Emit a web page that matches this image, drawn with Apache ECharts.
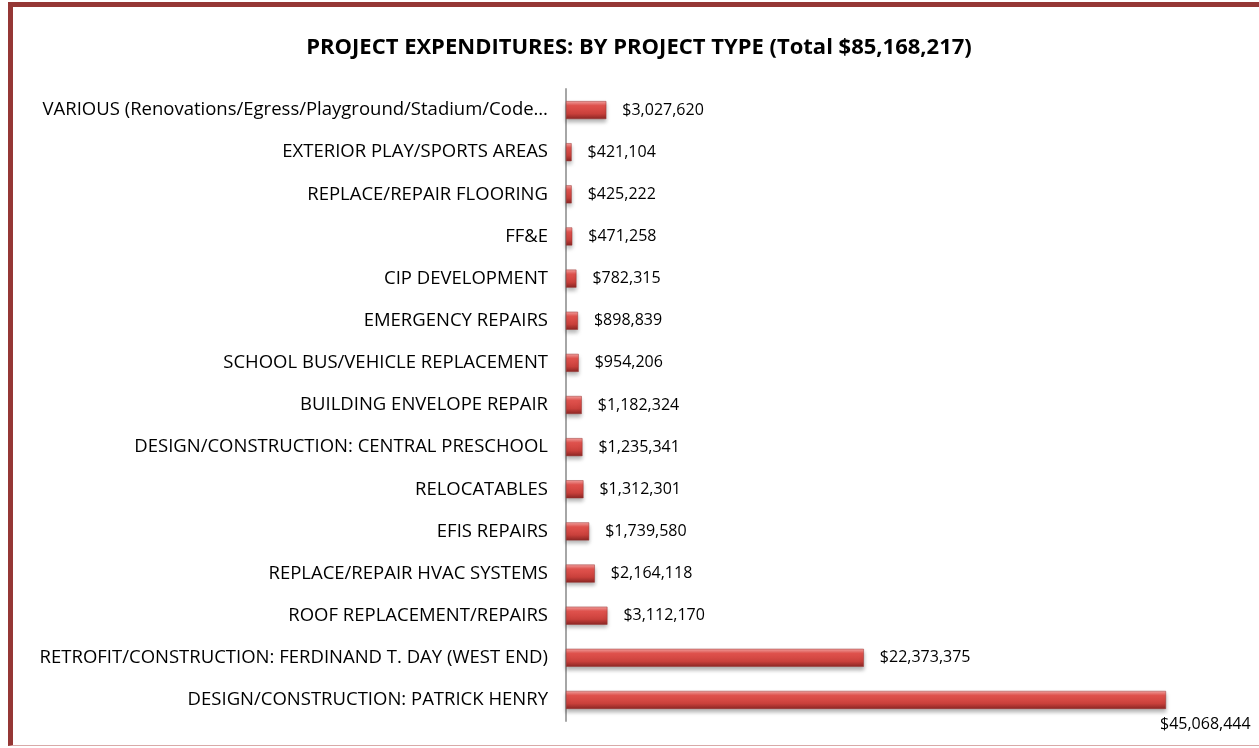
<!DOCTYPE html>
<html>
<head>
<meta charset="utf-8">
<script src="https://cdn.jsdelivr.net/npm/echarts@6/dist/echarts.min.js"></script>
<style>
  html, body { margin: 0; padding: 0; background: #fff; overflow: hidden; }
  #frame {
    position: absolute; left: 8px; top: 2px; width: 1260px; height: 744px;
    border-left: 5px solid #953735; border-top: 5px solid #953735;
    border-right: 4px solid #953735; border-bottom: 1px solid #d9a9a8;
    box-sizing: border-box;
  }
  #main { position: absolute; left: 0; top: 0; width: 1259px; height: 748px; }
</style>
</head>
<body>
<div id="frame"></div>
<div id="main"></div>
<script>
// categories listed top to bottom, as in the picture
var categories = [
    'VARIOUS (Renovations/Egress/Playground/Stadium/Code\u2026',
    'EXTERIOR PLAY/SPORTS AREAS',
    'REPLACE/REPAIR FLOORING',
    'FF&E',
    'CIP DEVELOPMENT',
    'EMERGENCY REPAIRS',
    'SCHOOL BUS/VEHICLE REPLACEMENT',
    'BUILDING ENVELOPE REPAIR',
    'DESIGN/CONSTRUCTION: CENTRAL PRESCHOOL',
    'RELOCATABLES',
    'EFIS REPAIRS',
    'REPLACE/REPAIR HVAC SYSTEMS',
    'ROOF REPLACEMENT/REPAIRS',
    'RETROFIT/CONSTRUCTION: FERDINAND T. DAY (WEST END)',
    'DESIGN/CONSTRUCTION: PATRICK HENRY'
];
var amounts = [
    3027620, 421104, 425222, 471258, 782315, 898839, 954206, 1182324,
    1235341, 1312301, 1739580, 2164118, 3112170, 22373375, 45068444
];
var chartTitle = 'PROJECT EXPENDITURES: BY PROJECT TYPE (Total $85,168,217)';

var dom = document.getElementById('main');
var myChart = echarts.init(dom, null, { renderer: 'canvas' });

function money(v) {
    return '$' + v.toString().replace(/\B(?=(\d{3})+(?!\d))/g, ',');
}

var barColor = new echarts.graphic.LinearGradient(0, 0, 0, 1, [
    { offset: 0, color: '#f4a3a1' },
    { offset: 0.25, color: '#e4544f' },
    { offset: 0.7, color: '#c9403b' },
    { offset: 1, color: '#8a2624' }
]);

var maxIdx = amounts.indexOf(Math.max.apply(null, amounts));

var option = {
    animation: false,
    title: {
        text: chartTitle,
        left: 634,
        textAlign: 'center',
        top: 32,
        textStyle: { fontFamily: 'Open Sans', fontSize: 22, fontWeight: 'bold', color: '#000' }
    },
    grid: { left: 566, right: 93, top: 89, bottom: 27 },
    xAxis: {
        type: 'value',
        min: 0,
        max: 45068444,
        show: false
    },
    yAxis: {
        type: 'category',
        data: categories,
        inverse: true,
        axisLine: { lineStyle: { color: '#a6a6a6', width: 2 } },
        axisTick: { show: false },
        axisLabel: { margin: 18, color: '#000', fontFamily: 'Open Sans', fontSize: 18.5 }
    },
    series: [
        {
            type: 'bar',
            barWidth: 18,
            data: amounts.map(function (v, i) {
                var d = { value: v };
                if (i === maxIdx) {
                    d.label = { position: ['100%', '100%'], align: 'left', verticalAlign: 'top', offset: [-6, 8] };
                }
                return d;
            }),
            itemStyle: {
                color: barColor,
                borderColor: '#9b3532',
                borderWidth: 0.5,
                shadowColor: 'rgba(0,0,0,0.3)',
                shadowBlur: 4,
                shadowOffsetY: 3
            },
            label: {
                show: true,
                position: 'right',
                distance: 16,
                color: '#000',
                fontFamily: 'Open Sans',
                fontSize: 16,
                formatter: function (p) { return money(p.value); }
            }
        }
    ]
};

myChart.setOption(option);
window.addEventListener('resize', myChart.resize);
</script>
</body>
</html>
